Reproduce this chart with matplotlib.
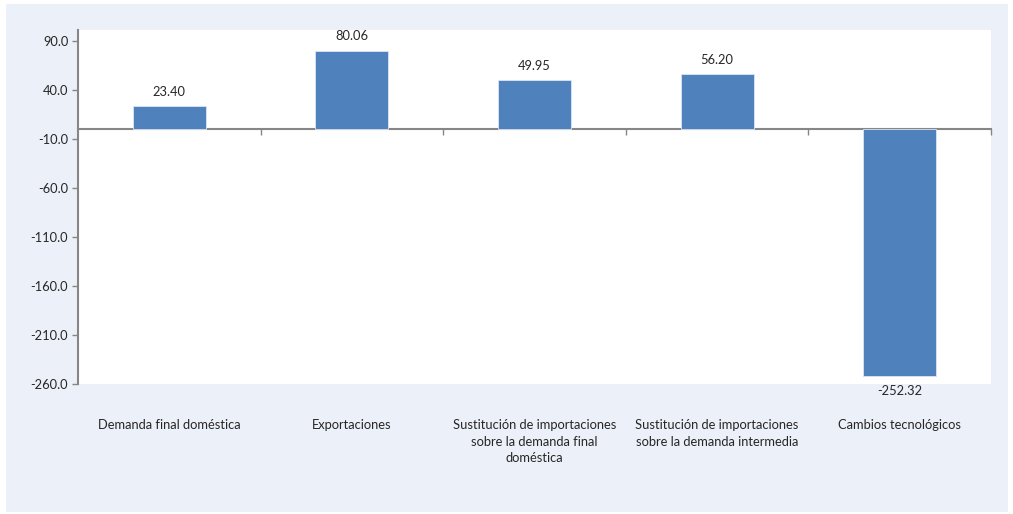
import numpy as np
import matplotlib.pyplot as plt
from matplotlib.patches import Rectangle
import matplotlib.transforms as mtransforms

categories = [
    "Demanda final doméstica",
    "Exportaciones",
    "Sustitución de importaciones\nsobre la demanda final\ndoméstica",
    "Sustitución de importaciones\nsobre la demanda intermedia",
    "Cambios tecnológicos",
]
values = [23.40, 80.06, 49.95, 56.20, -252.32]
yticks = [90.0, 40.0, -10.0, -60.0, -110.0, -160.0, -210.0, -260.0]

BAR = "#4F81BD"
TEXT = "#262626"
AXIS = "#868686"
BG = "#ECF0F8"
FS = 9.3

plt.rcParams["font.family"] = ["Lato", "DejaVu Sans"]

fig = plt.figure(figsize=(10.13, 5.14), dpi=100)
fig.patch.set_facecolor("white")
fig.patches.append(Rectangle((6 / 1013, 2 / 514), 1002 / 1013, 508 / 514,
                             transform=fig.transFigure, facecolor=BG,
                             edgecolor="none", zorder=-10))

ax = fig.add_axes([78 / 1013, 130 / 514, 913 / 1013, 354 / 514])
ax.set_facecolor("white")

x = np.arange(len(categories))
ax.bar(x, values, width=0.4, color=BAR, edgecolor="#DCE6F2", linewidth=0.6, zorder=3)

ax.set_xlim(-0.5, len(categories) - 0.5)
ax.set_ylim(-260, 101)

# y axis
ax.set_yticks(yticks)
ax.set_yticklabels([f"{v:.1f}" for v in yticks], fontsize=FS, color=TEXT)
ax.tick_params(axis="y", direction="out", length=4, width=1, color=AXIS, pad=3)
for side in ["top", "right"]:
    ax.spines[side].set_visible(False)
ax.spines["left"].set_color(AXIS)
ax.spines["left"].set_linewidth(1.5)

# category axis along zero with boundary ticks
ax.spines["bottom"].set_position(("data", 0))
ax.spines["bottom"].set_color(AXIS)
ax.spines["bottom"].set_linewidth(1.5)
ax.set_xticks(np.arange(0.5, len(categories), 1.0))
ax.set_xticklabels([])
ax.tick_params(axis="x", direction="out", length=4, width=1, color=AXIS)

# value labels
for xi, v in zip(x, values):
    if v >= 0:
        ax.annotate(f"{v:.2f}", (xi, v), xytext=(0, 6), textcoords="offset points",
                    ha="center", va="bottom", fontsize=FS, color=TEXT)
    else:
        ax.annotate(f"{v:.2f}", (xi, v), xytext=(0, -6), textcoords="offset points",
                    ha="center", va="top", fontsize=FS, color=TEXT)

# category labels below the plot area
trans = mtransforms.blended_transform_factory(ax.transData, ax.transAxes)
for xi, lab in zip(x, categories):
    ax.text(xi, -0.1, lab, transform=trans, ha="center", va="top",
            fontsize=FS, color=TEXT, linespacing=1.42)

fig.savefig("out.png", dpi=100, facecolor=fig.get_facecolor())
